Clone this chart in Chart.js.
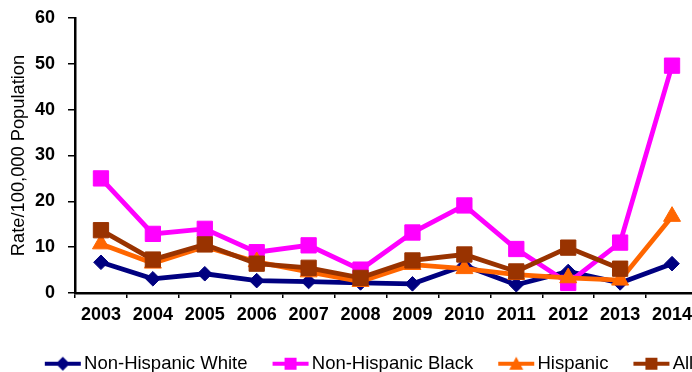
<!DOCTYPE html>
<html>
<head>
<meta charset="utf-8">
<script src="https://cdn.jsdelivr.net/npm/chart.js@4/dist/chart.umd.min.js"></script>
<style>
  html, body { margin: 0; padding: 0; background: #fff; overflow: hidden; width: 692px; height: 372px; }
  #wrap { position: absolute; left: 0; top: 0; width: 744px; height: 383px; }
</style>
</head>
<body>
<div id="wrap"><canvas id="chart" width="744" height="383"></canvas></div>
<script>
// Rates per 100,000 population by year
const years = ['2003', '2004', '2005', '2006', '2007', '2008', '2009', '2010', '2011', '2012', '2013', '2014'];
const nonHispanicWhite = [6.7, 3.1, 4.2, 2.7, 2.5, 2.2, 2.0, 6.0, 1.8, 4.7, 2.2, 6.4];
const nonHispanicBlack = [25.0, 12.9, 14.0, 8.9, 10.4, 5.1, 13.2, 19.1, 9.6, 2.2, 11.0, 49.6];
const hispanic = [10.7, 6.5, 10.1, 6.8, 4.6, 2.5, 6.2, 5.3, 4.0, 3.3, 2.8, 16.7];
const allGroups = [13.7, 7.3, 10.6, 6.4, 5.5, 3.3, 7.1, 8.4, 4.7, 9.9, 5.3, null];
const seriesNames = ['Non-Hispanic White', 'Non-Hispanic Black', 'Hispanic', 'All'];
const yAxisTitle = 'Rate/100,000 Population';

const colors = ['#000080', '#FF00FF', '#FF6600', '#993300'];
const shapes = ['diamond', 'square', 'triangle', 'square'];

Chart.defaults.font.family = '"Liberation Sans", Arial, sans-serif';
Chart.defaults.color = '#000';

// Small line-plus-marker swatches for the legend
function swatch(color, shape) {
  const c = document.createElement('canvas');
  c.width = 38; c.height = 18;
  const g = c.getContext('2d');
  g.strokeStyle = color;
  g.lineWidth = 4;
  g.beginPath(); g.moveTo(1, 9); g.lineTo(37, 9); g.stroke();
  g.fillStyle = color;
  g.beginPath();
  if (shape === 'diamond') {
    g.moveTo(19, 2); g.lineTo(26, 9); g.lineTo(19, 16); g.lineTo(12, 9);
  } else if (shape === 'square') {
    g.rect(13, 3, 12, 12);
  } else {
    g.moveTo(19, 2); g.lineTo(26, 15); g.lineTo(12, 15);
  }
  g.closePath(); g.fill();
  return c;
}
const swatches = colors.map((c, i) => swatch(c, shapes[i]));

function series(label, data, color, pointStyle, radius, order) {
  return {
    label, data, order,
    borderColor: color, backgroundColor: color,
    pointBackgroundColor: color, pointBorderColor: color,
    borderWidth: 4.8, pointBorderWidth: 1,
    pointStyle, pointRadius: radius, pointHoverRadius: radius,
    tension: 0, spanGaps: false, fill: false
  };
}

new Chart(document.getElementById('chart'), {
  type: 'line',
  data: {
    labels: years,
    datasets: [
      series(seriesNames[0], nonHispanicWhite, colors[0], 'rectRot', 7.3, 4),
      series(seriesNames[1], nonHispanicBlack, colors[1], 'rect', 10.8, 3),
      series(seriesNames[2], hispanic, colors[2], 'triangle', 9.8, 2),
      series(seriesNames[3], allGroups, colors[3], 'rect', 10.8, 1)
    ]
  },
  options: {
    responsive: false,
    animation: false,
    layout: { padding: { top: 18, left: 0, right: 0, bottom: 0 } },
    plugins: {
      tooltip: { enabled: false },
      legend: {
        position: 'bottom',
        align: 'center',
        labels: {
          usePointStyle: true,
          pointStyleWidth: 24,
          padding: 31,
          color: '#000',
          font: { size: 18.5 },
          generateLabels: chart => chart.data.datasets.map((ds, i) => ({
            text: ds.label,
            pointStyle: swatches[i],
            datasetIndex: i,
            hidden: false,
            lineWidth: 0,
            fillStyle: ds.borderColor,
            strokeStyle: ds.borderColor,
            fontColor: '#000'
          }))
        }
      }
    },
    scales: {
      x: {
        type: 'category',
        offset: true,
        grid: { offset: true, drawOnChartArea: false, drawTicks: true, tickLength: 5, color: '#000', lineWidth: 1.5 },
        border: { display: true, color: '#000', width: 2.5 },
        ticks: { font: { size: 18, weight: 'bold' }, color: '#000', padding: 6, maxRotation: 0, autoSkip: false },
        afterFit: s => { s.height = 30.5; }
      },
      y: {
        type: 'linear',
        position: 'left',
        min: 0, max: 60,
        grid: { drawOnChartArea: false, drawTicks: true, tickLength: 7, color: '#000', lineWidth: 1.5 },
        border: { display: true, color: '#000', width: 2.5 },
        ticks: { stepSize: 10, font: { size: 18, weight: 'bold' }, color: '#000', padding: 13 },
        title: { display: true, text: yAxisTitle, color: '#000', font: { size: 18.3 }, padding: { top: 7.7, bottom: 0 } },
        afterFit: s => { s.width = 75; s.paddingTop = 0; s.paddingBottom = 0; }
      },
      yRight: {
        type: 'linear',
        position: 'right',
        display: true,
        grid: { display: false },
        border: { display: false },
        ticks: { display: false },
        afterFit: s => { s.width = 46; }
      }
    }
  }
});
</script>
</body>
</html>
